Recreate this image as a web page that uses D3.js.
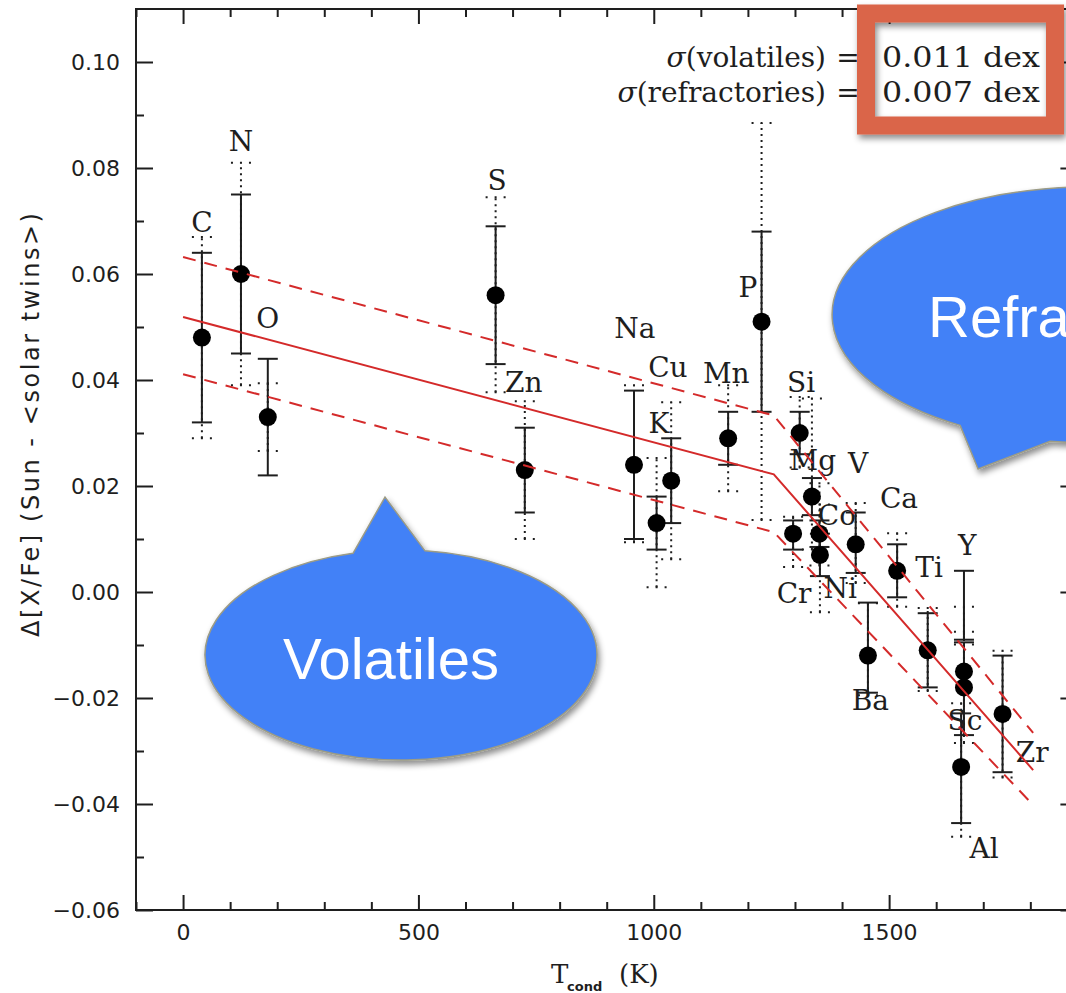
<!DOCTYPE html>
<html><head><meta charset="utf-8">
<script src="https://cdn.jsdelivr.net/npm/d3@7"></script>
<style>body{margin:0;background:#fff;overflow:hidden;} svg{display:block;}</style>
</head><body>
<svg id="chart" width="1066" height="993"></svg>
<script>
// ---------------- data ----------------
const elements = ["C","N","O","S","Zn","Na","K","Cu","Mn","P","Cr","Si","Mg","Co","Ni","V","Ba","Ca","Ti","Y","Sc","Al","Zr"];
const tcond    = [40,123,180,664,726,958,1006,1037,1158,1229,1296,1310,1336,1352,1353,1429,1455,1517,1582,1659,1659,1653,1741];
const deltaXFe = [0.048,0.060,0.033,0.056,0.023,0.024,0.013,0.021,0.029,0.051,0.011,0.030,0.018,0.011,0.007,0.009,-0.012,0.004,-0.011,-0.015,-0.018,-0.033,-0.023];
const errLow   = [0.032,0.045,0.022,0.043,0.015,0.010,0.008,0.013,0.024,0.034,0.008,0.026,0.0145,0.0085,0.003,0.0036,-0.019,-0.001,-0.018,-0.009,-0.027,-0.0436,-0.034];
const errHigh  = [0.064,0.075,0.044,0.069,0.031,0.038,0.018,0.029,0.034,0.068,0.0135,0.034,0.0215,0.0135,0.011,0.015,-0.002,0.009,-0.004,0.004,-0.0095,-0.0229,-0.012];
const dotLow   = [0.029,0.039,0.0266,0.0377,0.010,0.0094,0.0009,0.0062,0.019,0.0136,0.0047,0.0235,0.008,0.005,-0.0038,0.0017,-0.0195,-0.0028,-0.0187,-0.0099,-0.0285,-0.0462,-0.035];
const dotHigh  = [0.067,0.081,0.0394,0.0745,0.036,0.039,0.0253,0.0358,0.039,0.0885,0.0142,0.0368,0.0365,0.0205,0.0165,0.0168,-0.0021,0.0111,-0.003,-0.0028,-0.0075,-0.021,-0.0111];
// element label anchors (data units)
const labelT   = [40,123,180,667,724,960,1011,1030,1154,1200,1298,1313,1338,1389,1396,1434,1460,1521,1585,1666,1661,1702,1804];
const labelV   = [0.0679,0.0832,0.0498,0.0758,0.0377,0.0479,0.0300,0.0406,0.0394,0.0557,-0.0021,0.0377,0.0230,0.0126,-0.0011,0.0224,-0.0223,0.0158,0.0028,0.0070,-0.0260,-0.0502,-0.0321];
// piecewise fit and +-sigma envelopes
const fitT     = [0, 1255, 1806];
const fitV     = [0.0519, 0.0222, -0.0336];
const upperV   = [0.0632, 0.0333, -0.0266];
const lowerV   = [0.0411, 0.0113, -0.0402];
// axis ticks
const yMajor = [-0.06,-0.04,-0.02,0.00,0.02,0.04,0.06,0.08,0.10];
const yMinor = [-0.05,-0.03,-0.01,0.01,0.03,0.05,0.07,0.09];
const xMajor = [0,500,1000,1500];
const xMinor = [-100,100,200,300,400,600,700,800,900,1100,1200,1300,1400,1600,1700,1800];
// annotations
const sigmaNames  = ["volatiles","refractories"];
const sigmaValues = ["0.011 dex","0.007 dex"];
const bubbleText  = ["Volatiles","Refractories"];
const bubbleCT    = [463, 1927];       // centre, Tcond
const bubbleCV    = [-0.0119, 0.0523]; // centre, value
const bubbleTipT  = [429, 1689];
const bubbleTipV  = [0.0179, 0.0232];

// ---------------- drawing ----------------
const svg = d3.select("#chart");
const W = 1066, H = 993;
svg.append("rect").attr("width",W).attr("height",H).attr("fill","#fff");

const defs = svg.append("defs");
const f = defs.append("filter").attr("id","shadow").attr("x","-20%").attr("y","-20%").attr("width","140%").attr("height","150%");
f.append("feDropShadow").attr("dx",2).attr("dy",4).attr("stdDeviation",3).attr("flood-color","#000").attr("flood-opacity",0.45);

const x = d3.scaleLinear().domain([-100,1900]).range([136, 1077.4]);
const y = d3.scaleLinear().domain([-0.06,0.11]).range([910, 9]);
const ink = "#1e1e1e";
const sans = "'DejaVu Sans', sans-serif";
const serif = "'DejaVu Serif', serif";

function styleAxis(g){
  g.select(".domain").remove();
  g.selectAll(".tick line").attr("stroke",ink).attr("stroke-width",2);
  g.selectAll(".tick text").attr("fill",ink).style("font-family",sans).style("font-size","22px");
}
// frame
svg.append("rect").attr("x",x.range()[0]).attr("y",y.range()[1])
  .attr("width",x.range()[1]-x.range()[0]).attr("height",y.range()[0]-y.range()[1])
  .attr("fill","none").attr("stroke",ink).attr("stroke-width",2);

svg.append("g").attr("transform",`translate(${x.range()[0]},0)`)
  .call(d3.axisLeft(y).tickValues(yMajor).tickSize(-17).tickSizeOuter(0).tickPadding(16).tickFormat(d3.format(".2f"))).call(styleAxis);
svg.append("g").attr("transform",`translate(${x.range()[0]},0)`)
  .call(d3.axisLeft(y).tickValues(yMinor).tickSize(-8).tickSizeOuter(0).tickFormat("")).call(styleAxis);
svg.append("g").attr("transform",`translate(${x.range()[1]},0)`)
  .call(d3.axisRight(y).tickValues(yMajor).tickSize(-17).tickSizeOuter(0).tickFormat("")).call(styleAxis);
svg.append("g").attr("transform",`translate(${x.range()[1]},0)`)
  .call(d3.axisRight(y).tickValues(yMinor).tickSize(-8).tickSizeOuter(0).tickFormat("")).call(styleAxis);
svg.append("g").attr("transform",`translate(0,${y.range()[0]})`)
  .call(d3.axisBottom(x).tickValues(xMajor).tickSize(-15).tickSizeOuter(0).tickPadding(14).tickFormat(d3.format("d"))).call(styleAxis);
svg.append("g").attr("transform",`translate(0,${y.range()[0]})`)
  .call(d3.axisBottom(x).tickValues(xMinor).tickSize(-8).tickSizeOuter(0).tickFormat("")).call(styleAxis);
svg.append("g").attr("transform",`translate(0,${y.range()[1]})`)
  .call(d3.axisTop(x).tickValues(xMajor).tickSize(-15).tickSizeOuter(0).tickFormat("")).call(styleAxis);
svg.append("g").attr("transform",`translate(0,${y.range()[1]})`)
  .call(d3.axisTop(x).tickValues(xMinor).tickSize(-8).tickSizeOuter(0).tickFormat("")).call(styleAxis);

// axis titles
svg.append("text").attr("transform","translate(39,425) rotate(-90)")
  .attr("text-anchor","middle").attr("fill",ink)
  .style("font-family",sans).style("font-size","24px")
  .attr("textLength",424).attr("lengthAdjust","spacing")
  .text("Δ[X/Fe] (Sun - <solar twins>)");
const xt = svg.append("text").attr("fill",ink).style("font-family",serif).style("font-size","26px");
xt.append("tspan").attr("x",551).attr("y",983).text("T");
xt.append("tspan").attr("x",567).attr("y",991).style("font-family",sans).style("font-weight","bold").style("font-size","13px").text("cond");
xt.append("tspan").attr("x",619).attr("y",983).text("(K)");

const data = elements.map((e,i)=>({e,t:tcond[i],v:deltaXFe[i],lo:errLow[i],hi:errHigh[i],dlo:dotLow[i],dhi:dotHigh[i],lt:labelT[i],lv:labelV[i]}));
const cap = 10;

// dotted error bars
const gd = svg.append("g").attr("stroke",ink).attr("stroke-width",2).attr("fill","none");
gd.selectAll("line.dv").data(data).join("line").attr("class","dv")
  .attr("x1",d=>x(d.t)).attr("x2",d=>x(d.t)).attr("y1",d=>y(d.dlo)).attr("y2",d=>y(d.dhi))
  .attr("stroke-dasharray","2,4");
["dlo","dhi"].forEach(k=>{
  gd.selectAll("line.c"+k).data(data).join("line").attr("class","c"+k)
    .attr("x1",d=>x(d.t)-cap).attr("x2",d=>x(d.t)+cap).attr("y1",d=>y(d[k])).attr("y2",d=>y(d[k]))
    .attr("stroke-dasharray","2,7");
});
// solid error bars
const gs = svg.append("g").attr("stroke",ink).attr("stroke-width",2).attr("fill","none");
gs.selectAll("line.sv").data(data).join("line").attr("class","sv")
  .attr("x1",d=>x(d.t)).attr("x2",d=>x(d.t)).attr("y1",d=>y(d.lo)).attr("y2",d=>y(d.hi));
["lo","hi"].forEach(k=>{
  gs.selectAll("line.s"+k).data(data).join("line").attr("class","s"+k)
    .attr("x1",d=>x(d.t)-cap).attr("x2",d=>x(d.t)+cap).attr("y1",d=>y(d[k])).attr("y2",d=>y(d[k]));
});
// points
svg.append("g").selectAll("circle").data(data).join("circle")
  .attr("cx",d=>x(d.t)).attr("cy",d=>y(d.v)).attr("r",9).attr("fill","#000");
// labels
svg.append("g").selectAll("text").data(data).join("text")
  .attr("x",d=>x(d.lt)).attr("y",d=>y(d.lv)).attr("text-anchor","middle")
  .attr("fill",ink).style("font-family",serif).style("font-size","28px").text(d=>d.e);

// fit lines
const line = d3.line().x(d=>x(d[0])).y(d=>y(d[1]));
const red = "#d42a2a";
svg.append("path").datum(fitT.map((t,i)=>[t,fitV[i]])).attr("d",line).attr("fill","none").attr("stroke",red).attr("stroke-width",2);
[upperV,lowerV].forEach(arr=>{
  svg.append("path").datum(fitT.map((t,i)=>[t,arr[i]])).attr("d",line).attr("fill","none")
    .attr("stroke",red).attr("stroke-width",2).attr("stroke-dasharray","13,9");
});

// sigma annotations
sigmaNames.forEach((n,i)=>{
  const by = 67 + i*35;
  const t = svg.append("text").attr("x",826).attr("y",by).attr("text-anchor","end").attr("fill",ink)
    .style("font-family",serif).style("font-size","28px");
  t.append("tspan").style("font-style","italic").text("σ");
  t.append("tspan").text("("+n+")");
  svg.append("text").attr("x",848).attr("y",by).attr("text-anchor","middle").attr("fill",ink)
    .style("font-family",serif).style("font-size","28px").text("=");
  svg.append("text").attr("x",882).attr("y",by).attr("fill",ink)
    .attr("textLength",158).attr("lengthAdjust","spacingAndGlyphs")
    .style("font-family",serif).style("font-size","28px").text(sigmaValues[i]);
});
svg.append("rect").attr("x",866).attr("y",13.5).attr("width",189).attr("height",112)
  .attr("fill","none").attr("stroke","#da6548").attr("stroke-width",18).attr("filter","url(#shadow)");

// speech bubbles
const bubbleR = [[196,105],[258,128]];
const baseHalf = [[-48,24],[-130,-40]];
bubbleText.forEach((txt,i)=>{
  const cx = x(bubbleCT[i]), cy = y(bubbleCV[i]);
  const [rx,ry] = bubbleR[i];
  const tx = x(bubbleTipT[i]), ty = y(bubbleTipV[i]);
  const up = ty < cy;
  const sgn = up ? -1 : 1;
  const pt = dx => [cx+dx, cy + sgn*ry*Math.sqrt(1-(dx/rx)*(dx/rx))];
  const a = pt(baseHalf[i][0]), b = pt(baseHalf[i][1]);
  const d = `M${a[0]},${a[1]} L${tx},${ty} L${b[0]},${b[1]} A${rx},${ry} 0 1 ${up?1:0} ${a[0]},${a[1]} Z`;
  svg.append("path").attr("d",d).attr("fill","#4381f7").attr("stroke","#9c9c86").attr("stroke-width",1.5)
    .attr("filter","url(#shadow)");
});
svg.append("text").attr("x",391).attr("y",679).attr("text-anchor","middle").attr("fill","#fff")
  .style("font-family","'Liberation Sans', Arial, sans-serif").style("font-size","58px").text(bubbleText[0]);
svg.append("text").attr("x",928).attr("y",337).attr("fill","#fff")
  .style("font-family","'Liberation Sans', Arial, sans-serif").style("font-size","58px").text(bubbleText[1]);
</script>
</body></html>
